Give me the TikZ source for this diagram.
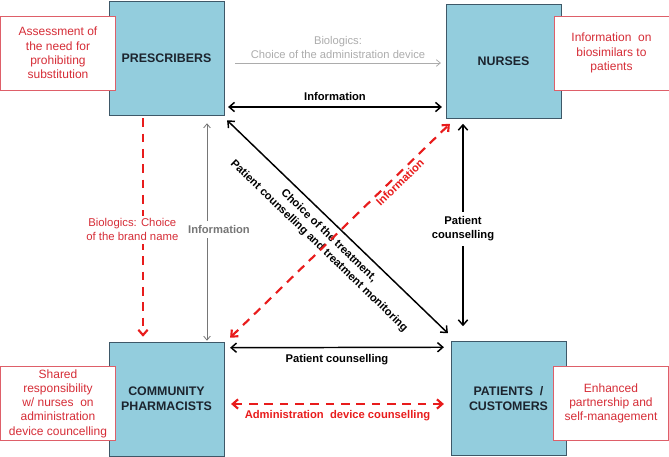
\documentclass[tikz,border=0pt]{standalone}
\usepackage{fontspec}
\setmainfont{Liberation Sans}
\usepackage{xcolor}
\usepackage{tikz}
\usetikzlibrary{arrows.meta, positioning, calc}
\definecolor{boxblue}{RGB}{147,205,221}
\definecolor{boxline}{RGB}{62,88,104}
\definecolor{boxtext}{RGB}{28,36,46}
\definecolor{noteline}{RGB}{222,95,105}
\definecolor{notered}{RGB}{214,45,55}
\definecolor{linkred}{RGB}{232,28,28}
\definecolor{lightgrey}{RGB}{172,172,172}
\definecolor{midgrey}{RGB}{118,118,118}

\begin{document}
\begin{tikzpicture}[x=0.75pt, y=-0.75pt, >={Straight Barb[length=4pt, width=7pt]},
  actor/.style={draw=boxline, fill=boxblue, minimum width=86pt, minimum height=85.5pt, inner sep=0pt,
    align=center, text=boxtext, font=\fontsize{9.3}{11.5}\selectfont\bfseries},
  note/.style={draw=noteline, fill=white, minimum width=86pt, minimum height=55.5pt, inner sep=0pt,
    align=center, text=notered, font=\fontsize{9}{10.7}\selectfont},
  lbl/.style={align=center, font=\fontsize{8.4}{10.5}\selectfont\bfseries},
  link/.style={line width=1.1pt, <->},
  redlink/.style={linkred, line width=1.6pt, dash pattern=on 6.5pt off 5pt},
  greylink/.style={line width=0.6pt, >={Straight Barb[length=3pt, width=5pt]}}]
  \useasboundingbox (0,0) rectangle (669,457);
  \node[actor] (pres)  at (166.5,58)   {PRESCRIBERS};
  \node[actor] (nurse) at (503.5,61.5) {NURSES};
  \node[actor] (pharm) at (166.5,399)  {COMMUNITY\\PHARMACISTS};
  \node[actor] (pat)   at (508.5,398.5){PATIENTS~~/\\CUSTOMERS};
  \node[note] (presnote)  at (58,53)      {Assessment of\\the need for\\prohibiting\\substitution};
  \node[note] (nursenote) at (611.5,53)   {Information~ on\\biosimilars to\\patients};
  \node[note] (pharmnote) at (58,403.5)   {Shared\\responsibility\\w/ nurses~ on\\administration\\device councelling};
  \node[note] (patnote)   at (611,403.5)  {Enhanced\\partnership and\\self-management};

  \draw[greylink, lightgrey, ->] ($(pres.east)+(11,5)$)
    -- node[above, lbl, font=\fontsize{8.4}{10.5}\selectfont, text=lightgrey] {Biologics:\\Choice of the administration device}
    ($(nurse.west)+(-5,1.5)$);
  \draw[link] ($(pres.east)+(4,49)$) -- node[above=1pt, lbl] {Information} ($(nurse.west)+(-4,45.5)$);
  \draw[link] ($(pres.south east)+(3,5)$)
    -- node[midway, rotate=-44, anchor=north, inner sep=5pt, lbl] {Choice of the treatment,\\Patient counselling and treatment monitoring}
    ($(pat.north west)+(-3,-8)$);
  \draw[redlink, <->] ($(pharm.north east)+(6,-4)$)
    -- node[pos=0.75, rotate=44, anchor=north, inner sep=1.5pt, lbl, text=linkred] {Information}
    ($(nurse.south west)+(4,5)$);
  \draw[redlink, ->] ($(pres.south)+(-23.5,3)$)
    -- node[pos=0.51, xshift=-8pt, fill=white, inner sep=2pt, align=center, text=notered, font=\fontsize{8.5}{10.8}\selectfont]
       {Biologics: Choice\\of the brand name}
    ($(pharm.north)+(-23.5,-5)$);
  \draw[greylink, midgrey, <->] ($(pres.south)+(40.5,8)$)
    -- node[pos=0.49, xshift=9pt, fill=white, lbl, text=midgrey] {Information}
    ($(pharm.north)+(40.5,-1)$);
  \draw[link] ($(nurse.south)+(-40.5,5)$)
    -- node[pos=0.52, fill=white, lbl] {Patient\\counselling}
    ($(pat.north)+(-45.5,-15)$);
  \draw[link] ($(pharm.north east)+(6,6)$) -- node[below=1pt, lbl] {Patient counselling} ($(pat.north west)+(-7,6)$);
  \draw[redlink, <->] ($(pharm.east)+(7,5)$)
    -- node[below=1pt, lbl, text=linkred] {Administration~ device counselling}
    ($(pat.west)+(-7,5.5)$);
\end{tikzpicture}
\end{document}
